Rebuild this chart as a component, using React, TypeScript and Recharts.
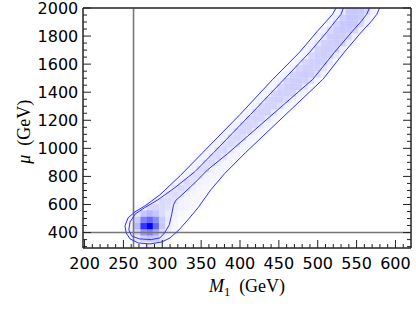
import React from 'react';
import { ComposedChart, XAxis, YAxis, Line, ReferenceArea, ReferenceLine, Label } from 'recharts';

const X_DOMAIN: [number, number] = [198, 620];
const Y_DOMAIN: [number, number] = [290, 2000];

const xMajorTicks = [200, 250, 300, 350, 400, 450, 500, 550, 600];
const yMajorTicks = [400, 600, 800, 1000, 1200, 1400, 1600, 1800, 2000];
const xMinorStep = 10;
const yMinorStep = 50;

const refM1 = 263;
const refMu = 400;

// outer (95%) contour, traced from top-left edge around the bottom to top-right edge
const outerM1 = [523.5, 519, 511, 499.5, 476.5, 442, 400, 352, 323, 297, 278, 265, 256, 252, 253.5, 258.5, 269, 284, 299.5, 310, 321.5, 333, 346, 362.5, 380, 407, 465.5, 506.5, 534, 557, 569, 576, 579.5];
const outerMu = [2000, 1955, 1905, 1834, 1684, 1491, 1241, 969, 805, 669, 591, 548, 505, 448, 398, 355, 326, 319, 333, 362, 419, 491, 577, 705, 819, 969, 1276, 1491, 1684, 1834, 1905, 1955, 2000];

// inner (68%) contour
const innerM1 = [533, 530, 522.5, 512.5, 489.5, 456.5, 413.5, 366, 342, 316, 294.5, 277, 265.5, 258.5, 257, 260.5, 270.5, 286, 297, 303, 309, 312, 314.5, 317.5, 324, 342, 358.5, 384, 446, 493.5, 521.5, 544.5, 556, 563, 566.5];
const innerMu = [2000, 1955, 1905, 1834, 1684, 1491, 1241, 969, 834, 719, 634, 576, 534, 476, 419, 376, 355, 350, 362, 398, 455, 526, 598, 630, 662, 755, 848, 962, 1262, 1491, 1684, 1834, 1905, 1955, 2000];

// 2D histogram: each row starts at heatMuStart (mu), first cell at heatM1Start (M1)
const heatMuStart = [290, 335, 380, 425, 470, 515, 560, 605, 650, 695, 740, 785, 830, 875, 920, 965, 1010, 1055, 1100, 1145, 1190, 1235, 1280, 1325, 1370, 1415, 1460, 1505, 1550, 1595, 1640, 1685, 1730, 1775, 1820, 1865, 1910, 1955];
const heatM1Start = [264, 256, 248, 248, 248, 256, 264, 280, 288, 296, 312, 320, 328, 336, 344, 352, 360, 368, 376, 384, 392, 400, 408, 416, 424, 432, 440, 448, 456, 464, 472, 480, 480, 488, 496, 504, 512, 520];
const heatLevels = [
  [3, 5, 7, 6, 4, 2],
  [3, 8, 18, 24, 20, 10, 4],
  [2, 6, 16, 42, 50, 35, 14, 6, 3],
  [2, 6, 28, 80, 100, 60, 22, 8, 4],
  [2, 5, 20, 50, 60, 45, 20, 9, 4, 2],
  [3, 10, 22, 28, 22, 14, 8, 5, 3, 2],
  [2, 5, 14, 16, 14, 12, 7, 5, 4, 3, 2],
  [3, 8, 14, 14, 11, 5, 4, 3, 3, 1],
  [1, 4, 12, 14, 11, 5, 4, 3, 2],
  [1, 4, 10, 14, 12, 5, 4, 3, 2],
  [4, 8, 14, 12, 5, 4, 3, 2],
  [4, 5, 13, 13, 5, 4, 4, 1],
  [4, 5, 12, 14, 6, 4, 4, 1],
  [4, 5, 12, 14, 8, 4, 4, 1],
  [4, 5, 13, 14, 10, 4, 4, 1],
  [4, 5, 14, 15, 10, 4, 4, 1],
  [3, 5, 13, 15, 12, 4, 4, 1],
  [3, 5, 14, 15, 13, 4, 4, 2],
  [3, 5, 14, 16, 15, 6, 4, 2],
  [3, 5, 15, 16, 15, 8, 4, 2],
  [3, 5, 15, 17, 16, 9, 4, 2],
  [3, 5, 15, 17, 17, 10, 4, 2],
  [3, 5, 15, 17, 17, 13, 4, 3],
  [3, 5, 16, 18, 18, 15, 5, 3],
  [3, 5, 16, 18, 18, 17, 6, 4],
  [3, 5, 16, 18, 19, 18, 10, 4],
  [3, 6, 17, 19, 19, 18, 12, 4, 1],
  [3, 6, 17, 19, 20, 19, 12, 4],
  [3, 6, 16, 18, 18, 18, 11, 4],
  [3, 6, 16, 18, 19, 18, 8, 3],
  [3, 6, 16, 19, 19, 18, 8, 3],
  [4, 7, 17, 19, 19, 18, 7, 2],
  [1, 5, 9, 18, 19, 20, 18, 7, 2],
  [2, 5, 11, 19, 20, 20, 16, 6, 1],
  [2, 6, 14, 20, 21, 20, 16, 6, 1],
  [2, 6, 17, 21, 22, 21, 14, 6],
  [4, 8, 19, 22, 22, 20, 7, 3],
  [4, 10, 21, 22, 21, 17, 5, 2],
];
const CELL_M1 = 8;
const CELL_MU = 45;

const FRAME = '#222';
const CONTOUR = '#3030ff';
const TICK_FONT = 'DejaVu Sans';
const LABEL_FONT = 'Liberation Serif';

const range = (a: number, b: number, s: number) => {
  const out: number[] = [];
  for (let v = a; v <= b + 1e-9; v += s) out.push(v);
  return out;
};
const xTicks = range(200, 610, xMinorStep);
const yTicks = range(300, 2000, yMinorStep);
const isMajorX = (v: number) => xMajorTicks.includes(v);
const isMajorY = (v: number) => yMajorTicks.includes(v);

const outerData = outerM1.map((m1, i) => ({ m1, mu: outerMu[i] }));
const innerData = innerM1.map((m1, i) => ({ m1, mu: innerMu[i] }));

const cells: { x1: number; x2: number; y1: number; y2: number; v: number }[] = [];
heatLevels.forEach((row, r) => {
  row.forEach((v, c) => {
    const x1 = heatM1Start[r] + c * CELL_M1;
    const y1 = heatMuStart[r];
    cells.push({ x1, x2: x1 + CELL_M1, y1, y2: Math.min(y1 + CELL_MU, Y_DOMAIN[1]), v });
  });
});
const shade = (v: number) => {
  const c = Math.max(0, Math.round(255 - v * 2.55));
  return `rgb(${c},${c},255)`;
};

const BottomTick = (props: any) => {
  const { x, y, payload } = props;
  const major = isMajorX(payload.value);
  return (
    <g>
      <path d={`M${x},${y}V${y - (major ? 8 : 4)}`} stroke={FRAME} strokeWidth={1} fill="none" />
      {major && (
        <text x={x} y={y + 9.5} dy="0.71em" textAnchor="middle" fontFamily={TICK_FONT} fontSize={16} fill="#000">
          {payload.value}
        </text>
      )}
    </g>
  );
};
const TopTick = (props: any) => {
  const { x, y, payload } = props;
  const major = isMajorX(payload.value);
  return <path d={`M${x},${y}V${y + (major ? 8 : 4)}`} stroke={FRAME} strokeWidth={1} fill="none" />;
};
const LeftTick = (props: any) => {
  const { x, y, payload } = props;
  const major = isMajorY(payload.value);
  return (
    <g>
      <path d={`M${x},${y}H${x + (major ? 8 : 4)}`} stroke={FRAME} strokeWidth={1} fill="none" />
      {major && (
        <text x={x - 4.7} y={y} dy="0.355em" textAnchor="end" fontFamily={TICK_FONT} fontSize={16} fill="#000">
          {payload.value}
        </text>
      )}
    </g>
  );
};
const RightTick = (props: any) => {
  const { x, y, payload } = props;
  const major = isMajorY(payload.value);
  return <path d={`M${x},${y}H${x - (major ? 8 : 4)}`} stroke={FRAME} strokeWidth={1} fill="none" />;
};

const XLabel = (props: any) => {
  const { x, y, width } = props.viewBox;
  return (
    <text x={x + width / 2} y={y + 44} textAnchor="middle" fontFamily={LABEL_FONT} fontSize={18} fill="#000">
      <tspan fontStyle="italic">M</tspan>
      <tspan fontSize={12.5} dy={4}>1</tspan>
      <tspan dy={-4}>{'\u2002(GeV)'}</tspan>
    </text>
  );
};
const YLabel = (props: any) => {
  const { x, y, height } = props.viewBox;
  const cx = x + 30.5;
  const cy = y + height / 2 + 3.7;
  return (
    <text x={cx} y={cy} transform={`rotate(-90 ${cx} ${cy})`} textAnchor="middle" fontFamily={LABEL_FONT} fontSize={18} fill="#000">
      <tspan fontStyle="italic">μ</tspan>
      <tspan>{'\u2002(GeV)'}</tspan>
    </text>
  );
};

export default function App() {
  return (
    <div style={{ position: 'absolute', left: 0, top: 0, background: '#fff' }}>
      <ComposedChart width={416} height={312} margin={{ top: 7, right: 4, bottom: 0, left: 0 }}>
        <XAxis
          dataKey="m1"
          type="number"
          domain={X_DOMAIN}
          ticks={xTicks}
          interval={0}
          tickSize={0}
          tickMargin={0}
          tickLine={false}
          tick={<BottomTick />}
          stroke={FRAME}
          height={64}
        >
          <Label content={<XLabel />} />
        </XAxis>
        <XAxis
          xAxisId="top"
          orientation="top"
          type="number"
          domain={X_DOMAIN}
          allowDataOverflow
          ticks={xTicks}
          interval={0}
          tickSize={0}
          tickMargin={0}
          tickLine={false}
          tick={<TopTick />}
          stroke={FRAME}
          height={1}
        />
        <YAxis
          type="number"
          domain={Y_DOMAIN}
          ticks={yTicks}
          interval={0}
          tickSize={0}
          tickMargin={0}
          tickLine={false}
          tick={<LeftTick />}
          stroke={FRAME}
          width={83}
        >
          <Label content={<YLabel />} />
        </YAxis>
        <YAxis
          yAxisId="right"
          orientation="right"
          type="number"
          domain={Y_DOMAIN}
          allowDataOverflow
          ticks={yTicks}
          interval={0}
          tickSize={0}
          tickMargin={0}
          tickLine={false}
          tick={<RightTick />}
          stroke={FRAME}
          width={1}
        />
        {cells.map((c, i) => (
          <ReferenceArea
            key={`c${i}`}
            x1={c.x1}
            x2={c.x2}
            y1={c.y1}
            y2={c.y2}
            fill={shade(c.v)}
            fillOpacity={1}
            stroke={shade(c.v)}
            strokeWidth={0.3}
          />
        ))}
        <ReferenceLine x={refM1} stroke="#777" strokeWidth={1.6} />
        <ReferenceLine y={refMu} stroke="#777" strokeWidth={1.6} />
        <ReferenceArea x1={X_DOMAIN[0]} x2={X_DOMAIN[1]} y1={Y_DOMAIN[0]} y2={Y_DOMAIN[1]} fill="none" fillOpacity={0} stroke={FRAME} strokeWidth={1} />
        <Line data={outerData} dataKey="mu" type="linear" stroke={CONTOUR} strokeWidth={1} dot={false} isAnimationActive={false} />
        <Line data={innerData} dataKey="mu" type="linear" stroke={CONTOUR} strokeWidth={1} dot={false} isAnimationActive={false} />
      </ComposedChart>
    </div>
  );
}
